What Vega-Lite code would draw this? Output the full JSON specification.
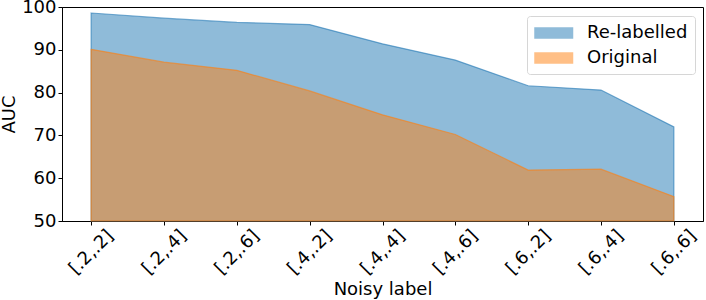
{
  "$schema": "https://vega.github.io/schema/vega-lite/v6.json",
  "width": 641,
  "height": 214,
  "autosize": {"type": "none"},
  "padding": {"left": 62, "top": 7, "right": 3, "bottom": 79},
  "config": {
    "font": "DejaVu Sans",
    "view": {"stroke": "black", "strokeWidth": 1},
    "axis": {
      "grid": false,
      "domainColor": "black",
      "tickColor": "black",
      "labelColor": "black",
      "titleColor": "black",
      "labelFont": "DejaVu Sans",
      "titleFont": "DejaVu Sans",
      "labelFontSize": 18,
      "titleFontSize": 18,
      "titleFontWeight": "normal",
      "tickSize": 4
    }
  },
  "data": {
    "values": [
      {"label": "[.2,.2]", "relabelled": 98.6, "original": 90.1},
      {"label": "[.2,.4]", "relabelled": 97.4, "original": 87.1},
      {"label": "[.2,.6]", "relabelled": 96.4, "original": 85.2},
      {"label": "[.4,.2]", "relabelled": 95.9, "original": 80.4},
      {"label": "[.4,.4]", "relabelled": 91.4, "original": 74.8},
      {"label": "[.4,.6]", "relabelled": 87.6, "original": 70.2},
      {"label": "[.6,.2]", "relabelled": 81.6, "original": 61.9},
      {"label": "[.6,.4]", "relabelled": 80.6, "original": 62.1},
      {"label": "[.6,.6]", "relabelled": 72.0, "original": 55.7}
    ]
  },
  "encoding": {
    "x": {
      "field": "label",
      "type": "nominal",
      "sort": null,
      "scale": {"type": "point", "padding": 0.4},
      "axis": {
        "title": "Noisy label",
        "labelAngle": -45,
        "labelAlign": "center",
        "labelBaseline": "middle",
        "labelPadding": 27,
        "titlePadding": 3
      }
    }
  },
  "layer": [
    {
      "mark": {"type": "area", "fillOpacity": 0.5, "strokeOpacity": 0.6, "strokeWidth": 1.2, "stroke": "#1f77b4"},
      "encoding": {
        "y": {
          "field": "relabelled",
          "type": "quantitative",
          "scale": {"domain": [50, 100], "zero": false, "nice": false},
          "axis": {"title": "AUC", "values": [50, 60, 70, 80, 90, 100], "labelPadding": 2, "titlePadding": 3}
        },
        "y2": {"datum": 50},
        "color": {
          "datum": "Re-labelled",
          "type": "nominal",
          "scale": {"domain": ["Re-labelled", "Original"], "range": ["#1f77b4", "#ff7f0e"]},
          "legend": {
            "title": null,
            "orient": "none",
            "legendX": 465,
            "legendY": 9,
            "padding": 7,
            "fillColor": "white",
            "strokeColor": "#d6d6d6",
            "cornerRadius": 3,
            "labelFontSize": 18,
            "labelFont": "DejaVu Sans",
            "labelColor": "black",
            "symbolType": "M-1,-0.6H3V0.6H-1Z",
            "symbolSize": 380,
            "symbolOpacity": 0.5,
            "symbolStrokeWidth": 0,
            "labelOffset": 33,
            "rowPadding": 6
          }
        }
      }
    },
    {
      "mark": {"type": "area", "fillOpacity": 0.5, "strokeOpacity": 0.6, "strokeWidth": 1.2, "stroke": "#ff7f0e"},
      "encoding": {
        "y": {"field": "original", "type": "quantitative"},
        "y2": {"datum": 50},
        "color": {"datum": "Original", "type": "nominal"}
      }
    }
  ]
}
